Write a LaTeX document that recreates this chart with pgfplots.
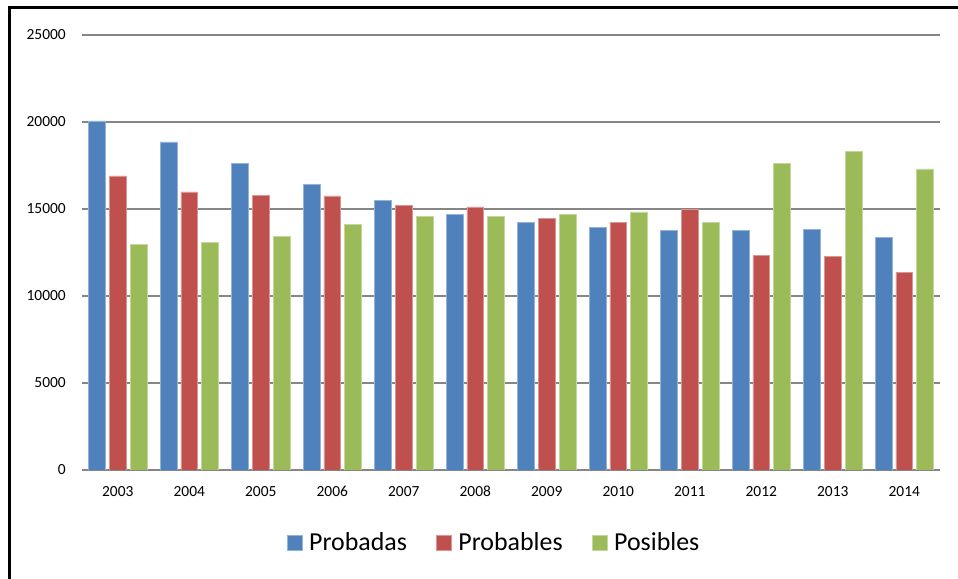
\documentclass[border=0pt]{standalone}
\usepackage{fontspec}
\setmainfont{Carlito}
\usepackage{pgfplots}
\pgfplotsset{compat=1.18}
\usepackage{pgfplotstable}

\definecolor{cblue}{RGB}{79,129,189}
\definecolor{cred}{RGB}{192,80,77}
\definecolor{cgreen}{RGB}{155,187,89}
\definecolor{cgrid}{RGB}{134,134,134}

% reservas por año (0 = 2003 ... 11 = 2014)
\pgfplotstableread{
x probadas probables posibles
0  20060 16910 12970
1  18850 15980 13100
2  17630 15800 13410
3  16420 15750 14120
4  15480 15210 14580
5  14690 15120 14580
6  14250 14480 14710
7  13950 14210 14830
8  13780 15000 14230
9  13780 12320 17640
10 13830 12260 18330
11 13390 11340 17300
}\datatable

\begin{document}
\begin{tikzpicture}[x=1bp,y=1bp]
\useasboundingbox (0,0) rectangle (958,579);
\begin{axis}[
    at={(82bp,109bp)}, anchor=south west,
    scale only axis,
    width=858bp, height=435bp,
    ybar=4.1bp, bar width=16.7bp,
    xmin=-0.5, xmax=11.5,
    ymin=0, ymax=25000,
    xtick={0,...,11},
    xticklabels={2003,2004,2005,2006,2007,2008,2009,2010,2011,2012,2013,2014},
    ytick={0,5000,10000,15000,20000,25000},
    scaled y ticks=false,
    ymajorgrids=true,
    grid style={cgrid, line width=1.2bp},
    axis line style={draw=none},
    major tick length=0pt,
    tick style={draw=none},
    ticklabel style={font=\fontsize{15.5}{18}\selectfont},
    /pgf/number format/assume math mode=true,
    /pgf/number format/set thousands separator={},
    yticklabel style={anchor=east, inner sep=0pt, xshift=-16bp},
    xticklabel style={anchor=base, inner sep=0pt, yshift=-27bp},
    legend columns=3,
    legend style={at={(0.479,-0.1667)}, anchor=center, draw=none,
        font=\fontsize{26}{30}\selectfont,
        nodes={inner xsep=0pt, inner ysep=1bp},
        /tikz/every odd column/.append style={column sep=7bp},
        /tikz/every even column/.append style={column sep=29bp}},
    legend image code/.code={\fill[#1] (0bp,-7.5bp) rectangle (15bp,7.5bp);},
]
\addplot[fill=cblue, draw=cblue!60!white, line width=0.5bp] table[x=x, y=probadas] {\datatable};
\addplot[fill=cred, draw=cred!60!white, line width=0.5bp] table[x=x, y=probables] {\datatable};
\addplot[fill=cgreen, draw=cgreen!60!white, line width=0.5bp] table[x=x, y=posibles] {\datatable};
\legend{Probadas,Probables,Posibles}
\end{axis}
\draw[line width=3bp] (9,0) -- (9,571.5) -- (958,571.5);
\end{tikzpicture}
\end{document}
